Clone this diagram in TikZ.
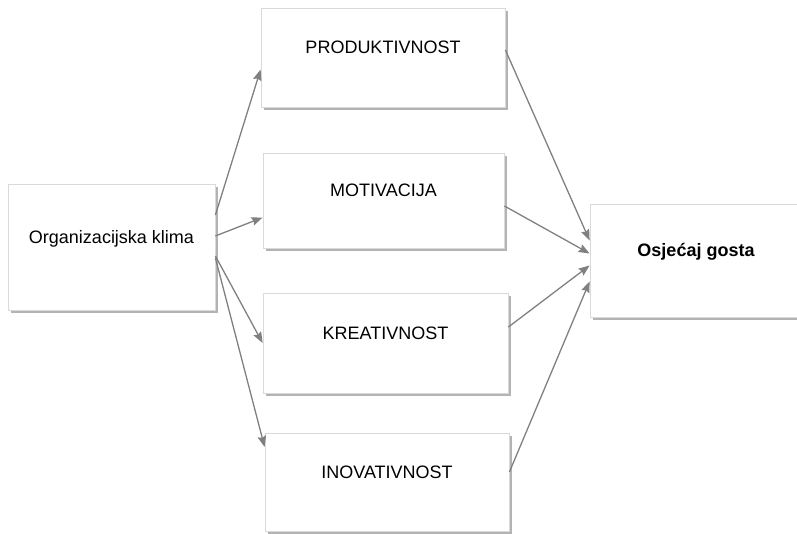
\documentclass[tikz,border=0pt]{standalone}
\usepackage{fontspec}
\setmainfont{Liberation Sans}
\usetikzlibrary{arrows.meta,shadows}

\begin{document}
\begin{tikzpicture}[x=1pt, y=-1pt, >={Stealth[length=11pt,width=8.5pt,inset=1.5pt]},
  box/.style={draw=black!15, fill=white, line width=0.8pt, inner xsep=0pt, inner ysep=0pt,
    font=\fontsize{18}{21}\selectfont,
    drop shadow={shadow xshift=2.5pt, shadow yshift=-3pt, opacity=0.6, fill=black!50}},
  conn/.style={->, draw=black!50, line width=1.3pt}]

% Frame
\useasboundingbox (0,0) rectangle (797,534);

% Left box
\node[box, minimum width=207pt, text height=59.4pt, text depth=66.6pt] (org) at (111.5,247) {Organizacijska klima};

% Middle boxes
\node[box, minimum width=244pt, text height=45.9pt, text depth=53.1pt] (prod) at (383,57.5) {PRODUKTIVNOST};
\node[box, minimum width=241pt, text height=43.9pt, text depth=51.1pt] (motiv) at (383.5,200.5) {MOTIVACIJA};
\node[box, minimum width=245pt, text height=46.4pt, text depth=53.6pt] (kreat) at (385.5,343) {KREATIVNOST};
\node[box, minimum width=244pt, text height=45.4pt, text depth=52.6pt] (inov) at (387,482) {INOVATIVNOST};

% Right box
\node[box, minimum width=212pt, text height=52.9pt, text depth=60.1pt, font=\fontsize{18}{21}\selectfont\bfseries] (osj) at (696,260.5) {Osjećaj gosta};

% Arrows out of the left box
\draw[conn] ([yshift=32pt]org.east) -- ([yshift=-12pt]prod.west);
\draw[conn] ([yshift=11pt]org.east) -- ([yshift=-17pt]motiv.west);
\draw[conn] ([yshift=-9pt]org.east) -- (kreat.west);
\draw[conn] ([yshift=-11pt]org.east) -- ([yshift=35pt]inov.west);

% Arrows into the right box
\draw[conn] ([yshift=7.5pt]prod.east) -- ([yshift=20pt]osj.west);
\draw[conn] ([yshift=-5.5pt]motiv.east) -- ([yshift=7pt]osj.west);
\draw[conn] ([yshift=16pt]kreat.east) -- ([yshift=-5pt]osj.west);
\draw[conn] ([yshift=10pt]inov.east) -- ([yshift=-21pt]osj.west);

\end{tikzpicture}
\end{document}
